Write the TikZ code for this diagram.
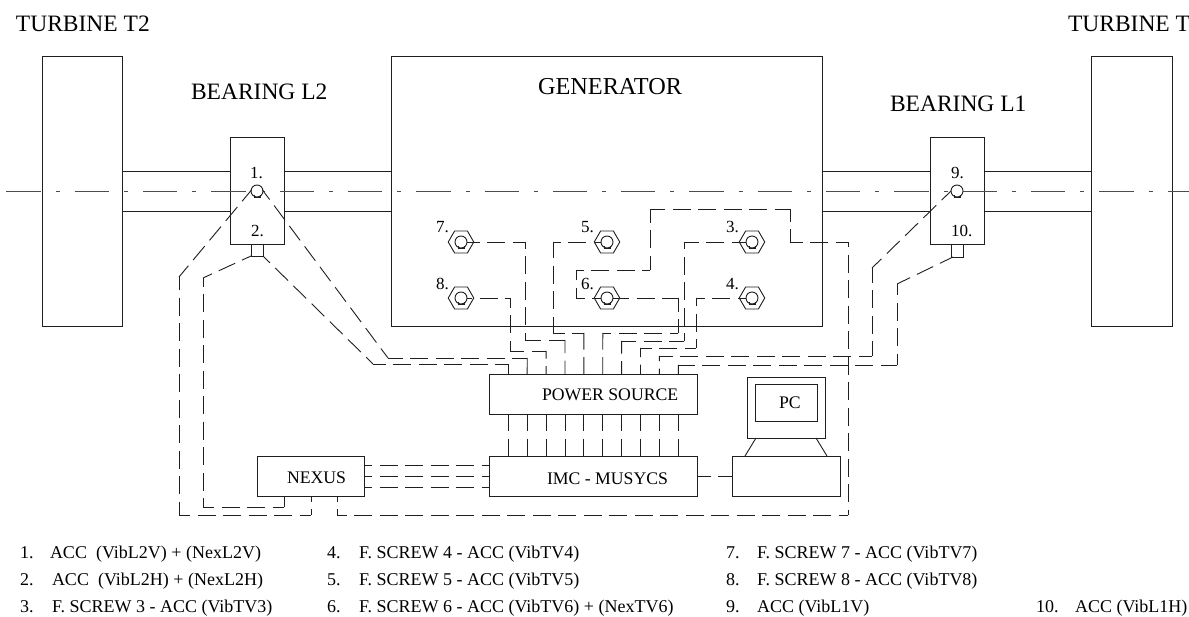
\documentclass[tikz,border=0pt]{standalone}
\usepackage{fontspec}
\setmainfont{Liberation Serif}
\usetikzlibrary{shapes.geometric,calc}
\tikzset{
  x=1pt,y=-1pt,
  ink/.style={line width=0.9pt,draw=black!88},
  box/.style={ink,rectangle,inner sep=0pt,outer sep=0pt},
  axis/.style={line width=0.8pt,draw=black!70,dash pattern=on 34.3pt off 15pt on 4pt off 15pt},
  big/.style={inner sep=0pt,outer sep=0pt,anchor=base west,font=\fontsize{23.5}{26}\selectfont},
  mid/.style={inner sep=0pt,outer sep=0pt,anchor=base west,font=\fontsize{17.7}{20}\selectfont},
  num/.style={inner sep=0pt,outer sep=0pt,anchor=base west,font=\fontsize{17}{20}\selectfont},
  leg/.style={inner sep=0pt,outer sep=0pt,anchor=base west,font=\fontsize{18}{20}\selectfont},
  hexnut/.style={ink,regular polygon,regular polygon sides=6,minimum size=25.5pt,inner sep=0pt,outer sep=0pt},
  ball/.style={ink,circle,fill=white,minimum size=12pt,inner sep=0pt,outer sep=0pt},
}
\newcommand{\rectnode}[5]{%
  \node[box,minimum width={(#4-#2)*1pt},minimum height={(#5-#3)*1pt}] (#1) at ({(#2+#4)/2},{(#3+#5)/2}) {};}
\newcommand{\bolt}[2]{%
  \node[ball] (#1) at (#2) {};
  \draw[ink,line width=0.6pt] ($(#2)+(-3,4.2)$) -- ($(#2)+(-3,6)$) -- ($(#2)+(3,6)$) -- ($(#2)+(3,4.2)$);}
% one straight piece of a dashed wire: the pattern is centred on the piece
\def\segx(#1)(#2){%
  \path let \p1=($(#2)-(#1)$) in \pgfextra{%
    \pgfmathsetmacro\seglen{veclen(\x1,\y1)}%
    \pgfmathsetmacro\segn{floor((\seglen-17.5)/25.5)}%
    \pgfmathsetmacro\sege{(\seglen-7.5-\segn*25.5)/2}%
    \pgfmathsetmacro\segp{18-\sege}%
    \xdef\segL{\seglen}\xdef\segN{\segn}\xdef\segP{\segp}};
  \pgfmathparse{\segL<17.5?1:0}%
  \ifdim\pgfmathresult pt>0.5pt
    \draw[ink] (#1) -- (#2);
  \else
    \draw[ink,dash pattern=on 18pt off 7.5pt,dash phase=\segP pt] (#1) -- (#2);
  \fi}
\newcommand{\wire}[1]{%
  \foreach \wc [count=\wk, remember=\wc as \wprev] in {#1}{%
    \ifnum\wk>1 \edef\tmp{\noexpand\segx\wprev\wc}\tmp\fi}}
\begin{document}
\begin{tikzpicture}
\useasboundingbox (0,0) rectangle (1189,617);
% machine
\rectnode{turbL}{42}{56}{122}{326}
\rectnode{gen}{391}{56}{822}{326}
\rectnode{turbR}{1091}{56}{1172}{326}
\rectnode{shaftA}{122}{171}{230}{211}
\rectnode{shaftB}{284}{171}{391}{211}
\rectnode{shaftC}{822}{171}{930}{211}
\rectnode{shaftD}{984}{171}{1091}{211}
\rectnode{bearL}{230}{137}{284}{244}
\rectnode{bearR}{930}{137}{984}{244}
\rectnode{footL}{251}{244}{263}{256}
\rectnode{footR}{951}{244}{963}{257}
\coordinate (axisA) at (6.4,191);
\coordinate (axisB) at (1189,191);
\draw[axis] (axisA) -- (axisB);
% equipment
\rectnode{power}{489.5}{374}{697}{414}
\rectnode{imc}{489.5}{456}{697}{496}
\rectnode{nexus}{257}{456}{364}{496}
\rectnode{monitor}{747}{377}{825}{438}
\rectnode{screen}{755}{384}{817}{421}
\rectnode{base}{732}{456}{840}{496}
\draw[ink] (756,438) coordinate (legA) -- (745,456) coordinate (legB);
\draw[ink] (816,438) coordinate (legC) -- (827,456) coordinate (legD);
% sensors
\foreach \n/\p in {s7/{461,242},s8/{461,298},s5/{607,242},s6/{607,298},s3/{752,242},s4/{752,298}}{
  \node[hexnut] (hex\n) at (\p) {};
  \bolt{\n}{\p}
}
\bolt{s1}{257,191}
\bolt{s9}{957,191}
\coordinate (s1l) at (251.5,190);
\coordinate (s1r) at (262.5,190);
\coordinate (s9l) at (951,191);
\coordinate (footRa) at (953,257);
% terminals
\foreach \i in {0,...,9}{
  \coordinate (t\i) at ({508.3+18.89*\i},374);
  \coordinate (u\i) at ({508.3+18.89*\i},414);
  \coordinate (v\i) at ({508.3+18.89*\i},456);
  \wire{(u\i),(v\i)}
}
\coordinate (n1) at (284,496);
\coordinate (n2) at (311,496);
\coordinate (n3) at (337,496);
% wires to the power source
\wire{(s1r),(388,358),(527.2,358),(t1)}
\wire{(footL.south east),(373,364),(508.3,364),(t0)}
\wire{(s8.east),(510,298),(510,351),(546.1,351),(t2)}
\wire{(s7.east),(525,242),(525,340),(565,340),(t3)}
\wire{(s5.west),(553,242),(553,333),(583.9,333),(t4)}
\wire{(s6.east),(678,298),(678,333),(602.8,333),(t5)}
\wire{(s3.west),(684,242),(684,341),(621.6,341),(t6)}
\wire{(s4.west),(696,298),(696,348),(640.5,348),(t7)}
\wire{(s9l),(872,268),(872,356),(659.4,356),(t8)}
\wire{(footRa),(897,284),(897,365),(678.3,365),(t9)}
% wires to NEXUS
\wire{(s1l),(179,277),(179,515),(311,515),(n2)}
\wire{(footL.south west),(203,278),(203,507),(284,507),(n1)}
\wire{(s6.west),(576,298),(576,270),(650,270),(650,209),(790,209),(790,242),(848,242),(848,515),(337,515),(n3)}
% data links
\foreach \y in {465,476,487}{
  \coordinate (na) at (364,\y);
  \coordinate (nb) at (489.5,\y);
  \wire{(na),(nb)}
}
\wire{(imc.east),(base.west)}
% labels
\node[big] (tT2) at (16,32) {TURBINE T2};
\node[big] (tT1) at (1068,32) {TURBINE T};
\node[big] (tL2) at (191,100) {BEARING L2};
\node[big,font=\fontsize{24.3}{26}\selectfont] (tGen) at (538,95) {GENERATOR};
\node[big] (tL1) at (890,112) {BEARING L1};
\node[mid] (tPow) at (542,401) {POWER SOURCE};
\node[mid] (tImc) at (547,484) {IMC - MUSYCS};
\node[mid] (tNex) at (287,483) {NEXUS};
\node[mid] (tPc) at (779,409) {PC};
\foreach \x/\y/\t in {250/179/1.,251/237/2.,436/233/7.,436/290/8.,581/233/5.,581/290/6.,726/233/3.,726/290/4.,951/179/9.,951/237/10.}{
  \node[num] (lab\t) at (\x,\y) {\t};
}
% legend
\foreach \x/\y/\t in {
 20/558/{1.},50/558/{ACC\ \ (VibL2V) + (NexL2V)},
 20/585/{2.},52/585/{ACC\ \ (VibL2H) + (NexL2H)},
 20/612/{3.},52/612/{F. SCREW 3 - ACC (VibTV3)},
 327/558/{4.},359/558/{F. SCREW 4 - ACC (VibTV4)},
 327/585/{5.},359/585/{F. SCREW 5 - ACC (VibTV5)},
 327/612/{6.},359/612/{F. SCREW 6 - ACC (VibTV6) + (NexTV6)},
 726/558/{7.},757/558/{F. SCREW 7 - ACC (VibTV7)},
 726/585/{8.},757/585/{F. SCREW 8 - ACC (VibTV8)},
 726/612/{9.},757/612/{ACC (VibL1V)},
 1036/612/{10.},1075/612/{ACC (VibL1H)}}{
  \node[leg] at (\x,\y) {\t};
}
\end{tikzpicture}
\end{document}
